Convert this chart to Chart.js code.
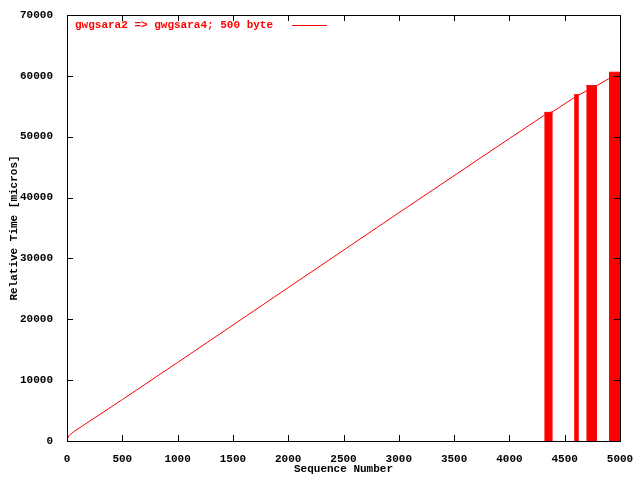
<!DOCTYPE html>
<html><head><script src="https://cdn.jsdelivr.net/npm/chart.js@4"></script>
<style>body{margin:0;background:#fff}#w{width:640px;height:480px}</style></head>
<body><div id="w"><canvas id="c" width="640" height="480"></canvas></div>
<script>
const lineX = [0, 5, 15, 30, 60, 100, 500, 1000, 2000, 3000, 4000, 4330, 4400, 4600, 4800, 5000];
const lineY = [0, 400, 800, 1100, 1500, 2000, 6800, 12900, 25200, 37500, 49700, 53700, 54200, 56600, 58500, 60600];
const barStart = [4315, 4585, 4695, 4900];
const barEnd   = [4392, 4628, 4792, 5000];
const barTop   = [54000, 56900, 58400, 60600];
const xTicks = [0,500,1000,1500,2000,2500,3000,3500,4000,4500,5000];
const yTicks = [0,10000,20000,30000,40000,50000,60000,70000];
const seriesLabel = 'gwgsara2 => gwgsara4; 500 byte';
const RED = '#ff0000';
const FONT = {family:'Liberation Mono', size:11, weight:'bold'};

const datasets = [{label:seriesLabel, data:lineX.map((x,i)=>({x, y:lineY[i]})), borderColor:RED, borderWidth:1, pointRadius:0, fill:false}];
barStart.forEach((s,i)=>datasets.push({label:'', data:[{x:s,y:barTop[i]},{x:barEnd[i],y:barTop[i]}], borderColor:RED, backgroundColor:RED, borderWidth:1, pointRadius:0, fill:'origin'}));

const gp = {id:'gp', afterDraw(c){
  const ctx=c.ctx, a=c.chartArea, xs=c.scales.x, ys=c.scales.y;
  ctx.save(); ctx.strokeStyle='#000'; ctx.lineWidth=1;
  ctx.strokeRect(a.left+0.5,a.top+0.5,a.right-a.left,a.bottom-a.top);
  ctx.beginPath();
  xTicks.forEach(v=>{const p=Math.round(xs.getPixelForValue(v))+0.5; ctx.moveTo(p,a.bottom);ctx.lineTo(p,a.bottom-6);ctx.moveTo(p,a.top);ctx.lineTo(p,a.top+6);});
  yTicks.forEach(v=>{const p=Math.round(ys.getPixelForValue(v))+0.5; ctx.moveTo(a.left,p);ctx.lineTo(a.left+6,p);ctx.moveTo(a.right,p);ctx.lineTo(a.right-6,p);});
  ctx.stroke();
  ctx.font='bold 11px "Liberation Mono"'; ctx.fillStyle=RED; ctx.textBaseline='middle';
  ctx.fillText(seriesLabel, 75, 25);
  ctx.strokeStyle=RED; ctx.beginPath(); ctx.moveTo(292,25.5); ctx.lineTo(327,25.5); ctx.stroke();
  ctx.restore();
}};

new Chart(document.getElementById('c'), {
  type:'line', data:{datasets},
  options:{responsive:false, animation:false, events:[],
    layout:{padding:{top:15,right:20,left:4,bottom:0}},
    plugins:{legend:{display:false}, tooltip:{enabled:false}},
    scales:{
      x:{type:'linear', min:0, max:5000, grid:{display:false}, border:{display:false},
        afterBuildTicks(s){s.ticks=xTicks.map(v=>({value:v}));},
        afterFit(s){s.height=39;},
        ticks:{color:'#000', font:FONT, maxRotation:0, padding:4, callback:v=>String(v)},
        title:{display:true, text:'Sequence Number', color:'#000', font:FONT, padding:{top:6}}},
      y:{min:0, max:70000, grid:{display:false}, border:{display:false},
        afterBuildTicks(s){s.ticks=yTicks.map(v=>({value:v}));},
        afterFit(s){s.width=63;},
        ticks:{color:'#000', font:FONT, padding:6, callback:v=>String(v)},
        title:{display:true, text:'Relative Time [micros]', color:'#000', font:FONT, padding:{bottom:4}}}
    }},
  plugins:[gp]
});
</script></body></html>
